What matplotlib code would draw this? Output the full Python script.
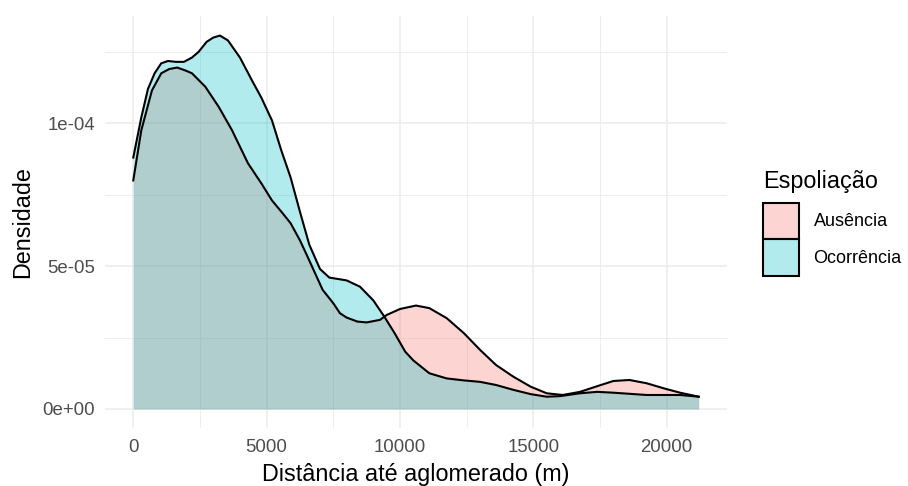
import matplotlib
matplotlib.use("Agg")
import matplotlib.pyplot as plt
from matplotlib.patches import Patch
from matplotlib.colors import to_rgba
import numpy as np

plt.rcParams['font.family'] = ['Liberation Sans', 'DejaVu Sans']

# density curves (x in metres, y in units of 1e-5)
aus_x = [0, 300, 700, 1050, 1350, 1650, 1950, 2200, 2700, 3200, 3700, 4300,
         4800, 5200, 5600, 5900, 6250, 6500, 7100, 7500, 7750, 8000, 8400,
         8750, 9250, 9500, 10000, 10600, 11100, 11750, 12400, 13000, 13600,
         14250, 14900, 15500, 16100, 16750, 17400, 18000, 18600, 19250,
         19900, 20500, 21200]
aus_y = [8.0, 9.75, 11.15, 11.75, 11.9, 11.95, 11.85, 11.75, 11.28, 10.58,
         9.76, 8.6, 7.9, 7.3, 6.85, 6.5, 5.9, 5.4, 4.17, 3.7, 3.35, 3.2, 3.06,
         3.03, 3.12, 3.29, 3.5, 3.62, 3.53, 3.18, 2.65, 2.07, 1.54, 1.13,
         0.78, 0.55, 0.49, 0.6, 0.8, 0.98, 1.015, 0.9, 0.72, 0.57, 0.43]

oco_x = [0, 300, 550, 800, 1050, 1300, 1600, 1900, 2200, 2450, 2750, 3000,
         3250, 3550, 4000, 4450, 4800, 5200, 5550, 5900, 6250, 6600, 7000,
         7350, 8000, 8500, 9000, 9400, 9800, 10200, 10500, 11100, 11750,
         12400, 13000, 13600, 14250, 14900, 15500, 16000, 16750, 17400,
         18000, 19250, 20500, 21200]
oco_y = [8.8, 10.2, 11.2, 11.75, 12.1, 12.18, 12.15, 12.15, 12.3, 12.5,
         12.85, 13.0, 13.07, 12.9, 12.3, 11.5, 10.9, 10.1, 9.05, 8.1, 6.9,
         5.75, 4.9, 4.6, 4.5, 4.28, 3.8, 3.25, 2.65, 2.0, 1.7, 1.25, 1.07,
         1.0, 0.95, 0.84, 0.67, 0.52, 0.43, 0.45, 0.55, 0.6, 0.57, 0.49,
         0.49, 0.43]

groups = ["Ausência", "Ocorrência"]
colors = ["#F8766D", "#00BFC4"]

x_ticks = [0, 5000, 10000, 15000, 20000]
y_ticks = [0, 5e-5, 1e-4]
y_labels = ["0e+00", "5e-05", "1e-04"]

fig = plt.figure(figsize=(9.08, 4.86), dpi=100)
ax = fig.add_axes([105 / 908, 1 - 427.7 / 486, 622 / 908, 411.7 / 486])

series = [(aus_x, aus_y), (oco_x, oco_y)]
for (xs, ys), col in zip(series, colors):
    xs = np.array(xs)
    ys = np.array(ys) * 1e-5
    ax.fill_between(xs, 0, ys, color=col, alpha=0.3, lw=0, zorder=2)
    ax.plot(xs, ys, color="black", lw=1.5, zorder=3)

ax.set_xlim(-1060, 22260)
ax.set_ylim(-0.655e-5, 13.755e-5)

ax.set_xticks(x_ticks)
ax.set_xticks([2500, 7500, 12500, 17500], minor=True)
ax.set_yticks(y_ticks)
ax.set_yticklabels(y_labels)
ax.set_yticks([2.5e-5, 7.5e-5, 12.5e-5], minor=True)
ax.grid(which="major", color="#EBEBEB", lw=1.1, zorder=0)
ax.grid(which="minor", color="#EBEBEB", lw=0.6, zorder=0)
ax.set_axisbelow(True)
ax.tick_params(which="both", length=0, labelsize=13.4, labelcolor="#4D4D4D")
ax.tick_params(axis="x", pad=8)
ax.tick_params(axis="y", pad=7)
for s in ax.spines.values():
    s.set_visible(False)

ax.set_xlabel("Distância até aglomerado (m)", fontsize=16.8, labelpad=5)
ax.set_ylabel("Densidade", fontsize=16.8, labelpad=6)

handles = [Patch(facecolor=to_rgba(c, 0.3), edgecolor="black", lw=1.5)
           for c in colors]
leg = fig.legend(handles, groups, title="Espoliação", loc="center left",
                 bbox_to_anchor=(763 / 908, 1 - 223 / 486), frameon=False,
                 fontsize=13, title_fontsize=16.8, handlelength=2.0,
                 handleheight=2.75, labelspacing=0.0, handletextpad=0.8,
                 borderpad=0, borderaxespad=0, alignment="left")
leg._legend_box.sep = 7  # gap between title and keys

fig.savefig("out.png", dpi=100)
